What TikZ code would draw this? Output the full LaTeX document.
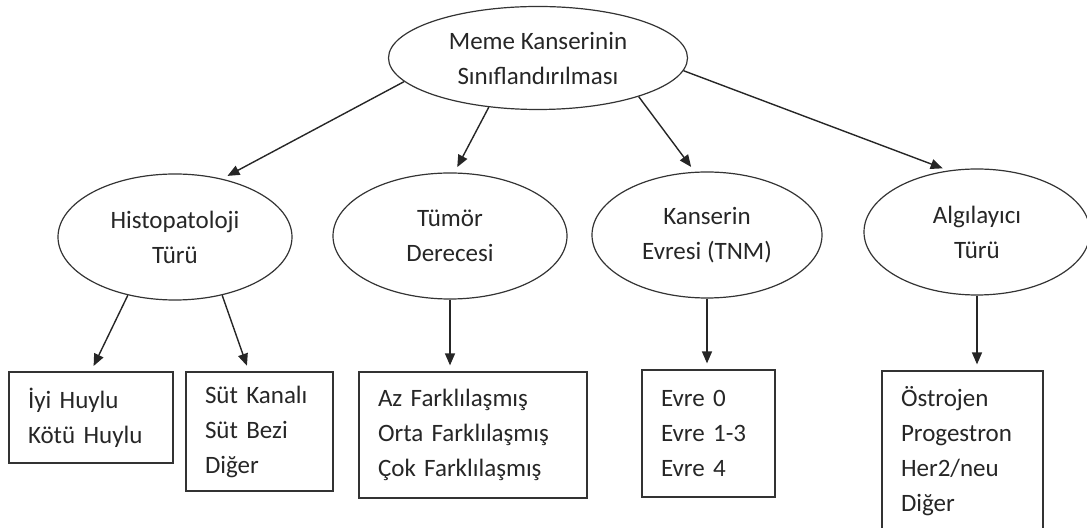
\documentclass[tikz,border=0pt]{standalone}
\usepackage{fontspec}
\setmainfont{Carlito}
\usetikzlibrary{shapes.geometric,arrows.meta}

\begin{document}
\begin{tikzpicture}[
x=0.5pt, y=-0.5pt,
font=\fontsize{12.5}{17.5}\selectfont,
every node/.style = {draw=black!80, text=black!85, line width=0.6pt},
oval/.style = {ellipse, align=center, inner sep=0pt, minimum width=117pt, minimum height=63pt},
liste/.style = {rectangle, align=left, inner xsep=9.5pt, inner ysep=0pt},
ok/.style = {draw=black!85, line width=0.7pt, -{Triangle[length=6pt,width=5pt]}, shorten >=3pt},
]
  \clip (0,0) rectangle (1087,528);
  % ana baslik
  \node[oval, minimum width=149.5pt, minimum height=51.5pt] (ana) at (538,58) {Meme Kanserinin\\Sınıflandırılması};
  % ikinci seviye
  \node[oval] (histo) at (175,237) {Histopatoloji\\Türü};
  \node[oval] (tumor) at (450,236) {Tümör\\Derecesi};
  \node[oval, minimum width=115pt] (tnm) at (707,235) {Kanserin\\Evresi (TNM)};
  \node[oval, minimum width=113pt] (algi) at (977,232) {Algılayıcı\\Türü};
  % listeler
  \node[liste, text width=63pt, minimum height=45.5pt] (huy) at (91,417.5) {İyi Huylu\\Kötü Huylu};
  \node[liste, text width=54.5pt, minimum height=59.5pt] (sut) at (259.5,431.5) {Süt Kanalı\\Süt Bezi\\Diğer};
  \node[liste, text width=95pt, minimum height=63pt] (az) at (473,435) {Az Farklılaşmış\\Orta Farklılaşmış\\Çok Farklılaşmış};
  \node[liste, text width=47.5pt, minimum height=63.5pt] (evre) at (708.5,433.5) {Evre 0\\Evre 1-3\\Evre 4};
  \node[liste, text width=61.5pt, minimum height=80.5pt] (alici) at (962.5,451.5) {Östrojen\\Progestron\\Her2/neu\\Diğer};
  % oklar
  \draw[ok] (ana.190) -- (histo.51);
  \draw[ok] (ana.225) -- (tumor.86);
  \draw[ok] (ana.339) -- (tnm.101);
  \draw[ok] (ana.355) -- (algi.115);
  \draw[ok] (histo.231) -- (huy.north);
  \draw[ok] (histo.309) -- (sut.100);
  \draw[ok] (tumor.south) -- (tumor.south |- az.north);
  \draw[ok] (tnm.south) -- (tnm.south |- evre.north);
  \draw[ok] (algi.south) -- (algi.south |- alici.north);
\end{tikzpicture}
\end{document}
